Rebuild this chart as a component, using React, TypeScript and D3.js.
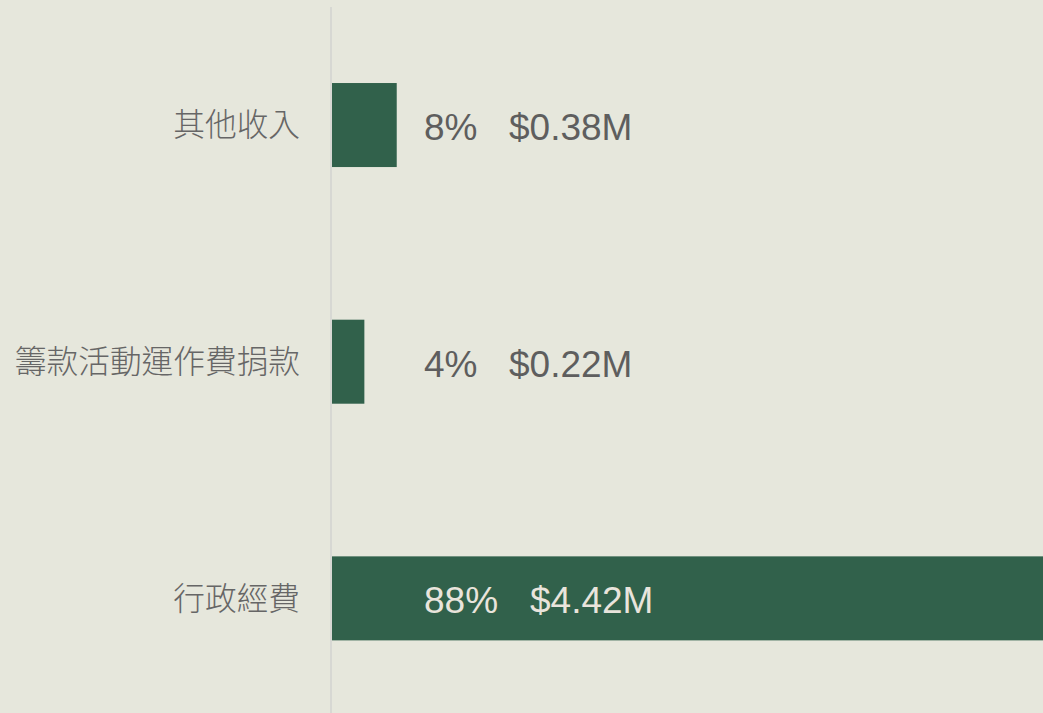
import * as d3 from "d3";
import { useEffect, useRef } from "react";

const categories = ["其他收入", "籌款活動運作費捐款", "行政經費"];
const percents = [8, 4, 88];
const amounts = [0.38, 0.22, 4.42];

const width = 1043;
const height = 713;
const axisX = 331;

export default function App() {
  const svgRef = useRef<SVGSVGElement | null>(null);

  useEffect(() => {
    if (!svgRef.current) return;
    const svg = d3.select(svgRef.current);
    svg.selectAll("*").remove();

    svg.append("rect")
      .attr("width", width)
      .attr("height", height)
      .attr("fill", "#e6e7dc");

    const y = d3.scaleBand<string>()
      .domain(categories)
      .range([6.7, 716.7])
      .paddingInner(0.645)
      .paddingOuter(0.3225);

    const x = d3.scaleLinear()
      .domain([0, 88])
      .range([axisX + 1, axisX + 1 + 712]);

    // axis line
    svg.append("line")
      .attr("x1", axisX)
      .attr("x2", axisX)
      .attr("y1", 7)
      .attr("y2", height)
      .attr("stroke", "#d7d8d3")
      .attr("stroke-width", 2);

    const rows = categories.map((c, i) => ({ c, p: percents[i], a: amounts[i] }));

    // bars
    svg.selectAll("rect.bar")
      .data(rows)
      .enter()
      .append("rect")
      .attr("class", "bar")
      .attr("x", x(0))
      .attr("y", d => y(d.c)!)
      .attr("width", d => x(d.p) - x(0))
      .attr("height", y.bandwidth())
      .attr("fill", "#31614b");

    // category labels
    svg.selectAll("text.cat")
      .data(rows)
      .enter()
      .append("text")
      .attr("class", "cat")
      .attr("x", 300)
      .attr("y", d => y(d.c)! + y.bandwidth() / 2)
      .attr("dy", "0.36em")
      .attr("text-anchor", "end")
      .attr("font-family", "'Noto Sans CJK TC', 'Noto Sans CJK SC', sans-serif")
      .attr("font-weight", 300)
      .attr("font-size", 31.7)
      .attr("fill", "#666666")
      .text(d => d.c);

    // value labels
    const vals = svg.selectAll("g.val")
      .data(rows)
      .enter()
      .append("g")
      .attr("class", "val")
      .attr("transform", d => `translate(424,${y(d.c)! + y.bandwidth() / 2})`)
      .attr("font-family", "'Liberation Sans', Arial, sans-serif")
      .attr("font-size", 37)
      .attr("fill", d => (x(d.p) > 700 ? "#e9e4dc" : "#5e5e5e"));

    vals.append("text")
      .attr("dy", "0.4em")
      .text(d => `${d.p}%`);

    vals.append("text")
      .attr("dy", "0.4em")
      .attr("x", d => (d.p >= 10 ? 106 : 85))
      .text(d => `$${d.a.toFixed(2)}M`);
  }, []);

  return (
    <svg
      ref={svgRef}
      width={width}
      height={height}
      style={{ position: "absolute", left: 0, top: 0, display: "block" }}
    ></svg>
  );
}
